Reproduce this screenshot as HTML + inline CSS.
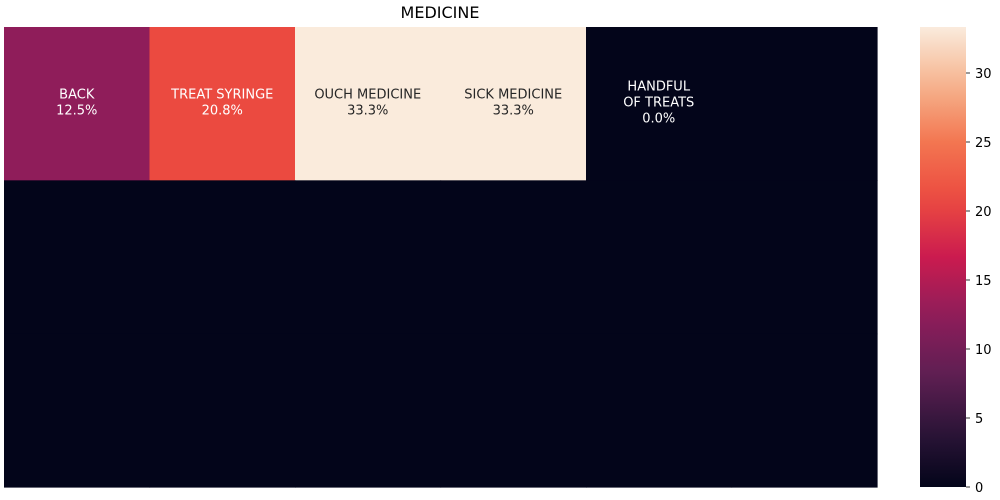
<!DOCTYPE html>
<html><head><meta charset="utf-8">
<style>
html,body{margin:0;padding:0;background:#fff;}
svg{display:block;font-family:"DejaVu Sans","Liberation Sans",sans-serif;}
</style></head>
<body>
<svg id="chart" width="1000" height="500" viewBox="0 0 1000 500">
<text x="440" y="18" text-anchor="middle" font-size="16" fill="#000">MEDICINE</text>
<g id="cells"></g>
<defs><linearGradient id="cbg" x1="0" y1="1" x2="0" y2="0"></linearGradient></defs>
<rect x="920" y="27" width="46" height="460" fill="url(#cbg)"/>
<g id="cbticks"></g>
</svg>
<script>
const rows = 3, cols = 6;
const values = [
  [12.5, 20.8, 33.3, 33.3, 0, 0],
  [0, 0, 0, 0, 0, 0],
  [0, 0, 0, 0, 0, 0]
];
const labels = [
  ["BACK\n12.5%", "TREAT SYRINGE\n20.8%", "OUCH MEDICINE\n33.3%", "SICK MEDICINE\n33.3%", "HANDFUL\nOF TREATS\n0.0%", ""],
  ["", "", "", "", "", ""],
  ["", "", "", "", "", ""]
];
const cbTicks = [0, 5, 10, 15, 20, 25, 30];
const vmin = 0, vmax = 33.3333;

const stops = [[0,"#03051A"],[0.125,"#2E1539"],[0.25,"#611F53"],[0.375,"#8F1D5A"],[0.5,"#CB1B4F"],[0.625,"#EB4A40"],[0.75,"#F37651"],[0.875,"#F6B48E"],[1,"#FAEBDD"]];
function hex(h){return [1,3,5].map(i=>parseInt(h.substr(i,2),16));}
function color(v){
  let t=Math.max(0,Math.min(1,(v-vmin)/(vmax-vmin)));
  for(let i=1;i<stops.length;i++){
    if(t<=stops[i][0]){
      const a=stops[i-1],b=stops[i],f=(t-a[0])/(b[0]-a[0]);
      const ca=hex(a[1]),cb=hex(b[1]);
      return "rgb("+ca.map((c,k)=>Math.round(c+(cb[k]-c)*f)).join(",")+")";
    }
  }
  return stops[stops.length-1][1];
}
const X0=4,X1=877,Y0=27,Y1=487;
const cw=(X1-X0)/cols, ch=(Y1-Y0)/rows;
const xs=c=>X0+c*cw, ys=r=>Y0+r*ch;
const NS="http://www.w3.org/2000/svg";
const g=document.getElementById("cells");
for(let r=0;r<rows;r++)for(let c=0;c<cols;c++){
  const v=values[r][c];
  const rect=document.createElementNS(NS,"rect");
  rect.setAttribute("x",xs(c));rect.setAttribute("y",ys(r));
  rect.setAttribute("width",cw+0.6);rect.setAttribute("height",ch+0.6);
  rect.setAttribute("fill",color(v));
  
  
  g.appendChild(rect);
  const lab=labels[r][c];
  if(lab){
    const lines=lab.split("\n");
    const t=document.createElementNS(NS,"text");
    t.setAttribute("text-anchor","middle");
    t.setAttribute("font-size","13");
    t.setAttribute("fill",(v-vmin)/(vmax-vmin)>0.7?"#262626":"#ffffff");
    const cy=ys(r)+ch/2, lh=16;
    lines.forEach((ln,i)=>{
      const ts=document.createElementNS(NS,"tspan");
      ts.setAttribute("x",xs(c)+cw/2);
      ts.setAttribute("y",cy+(i-(lines.length-1)/2)*lh+3);
      ts.textContent=ln;t.appendChild(ts);
    });
    
    
    g.appendChild(t);
  }
}
const grad=document.getElementById("cbg");
for(let i=0;i<=20;i++){
  const s=document.createElementNS(NS,"stop");
  s.setAttribute("offset",i/20);
  s.setAttribute("stop-color",color(vmin+(vmax-vmin)*i/20));
  grad.appendChild(s);
}
const tg=document.getElementById("cbticks");
cbTicks.forEach(v=>{
  const y=Y1-(v-vmin)/(vmax-vmin)*(Y1-Y0);
  const l=document.createElementNS(NS,"line");
  l.setAttribute("x1",966);l.setAttribute("x2",970);l.setAttribute("y1",y);l.setAttribute("y2",y);
  l.setAttribute("stroke","#000");l.setAttribute("stroke-width","0.8");
  
  
  tg.appendChild(l);
  const t=document.createElementNS(NS,"text");
  t.setAttribute("x",975);t.setAttribute("y",y+5);t.setAttribute("font-size","13");
  t.textContent=v;
  
  
  tg.appendChild(t);
});
</script>
</body></html>
